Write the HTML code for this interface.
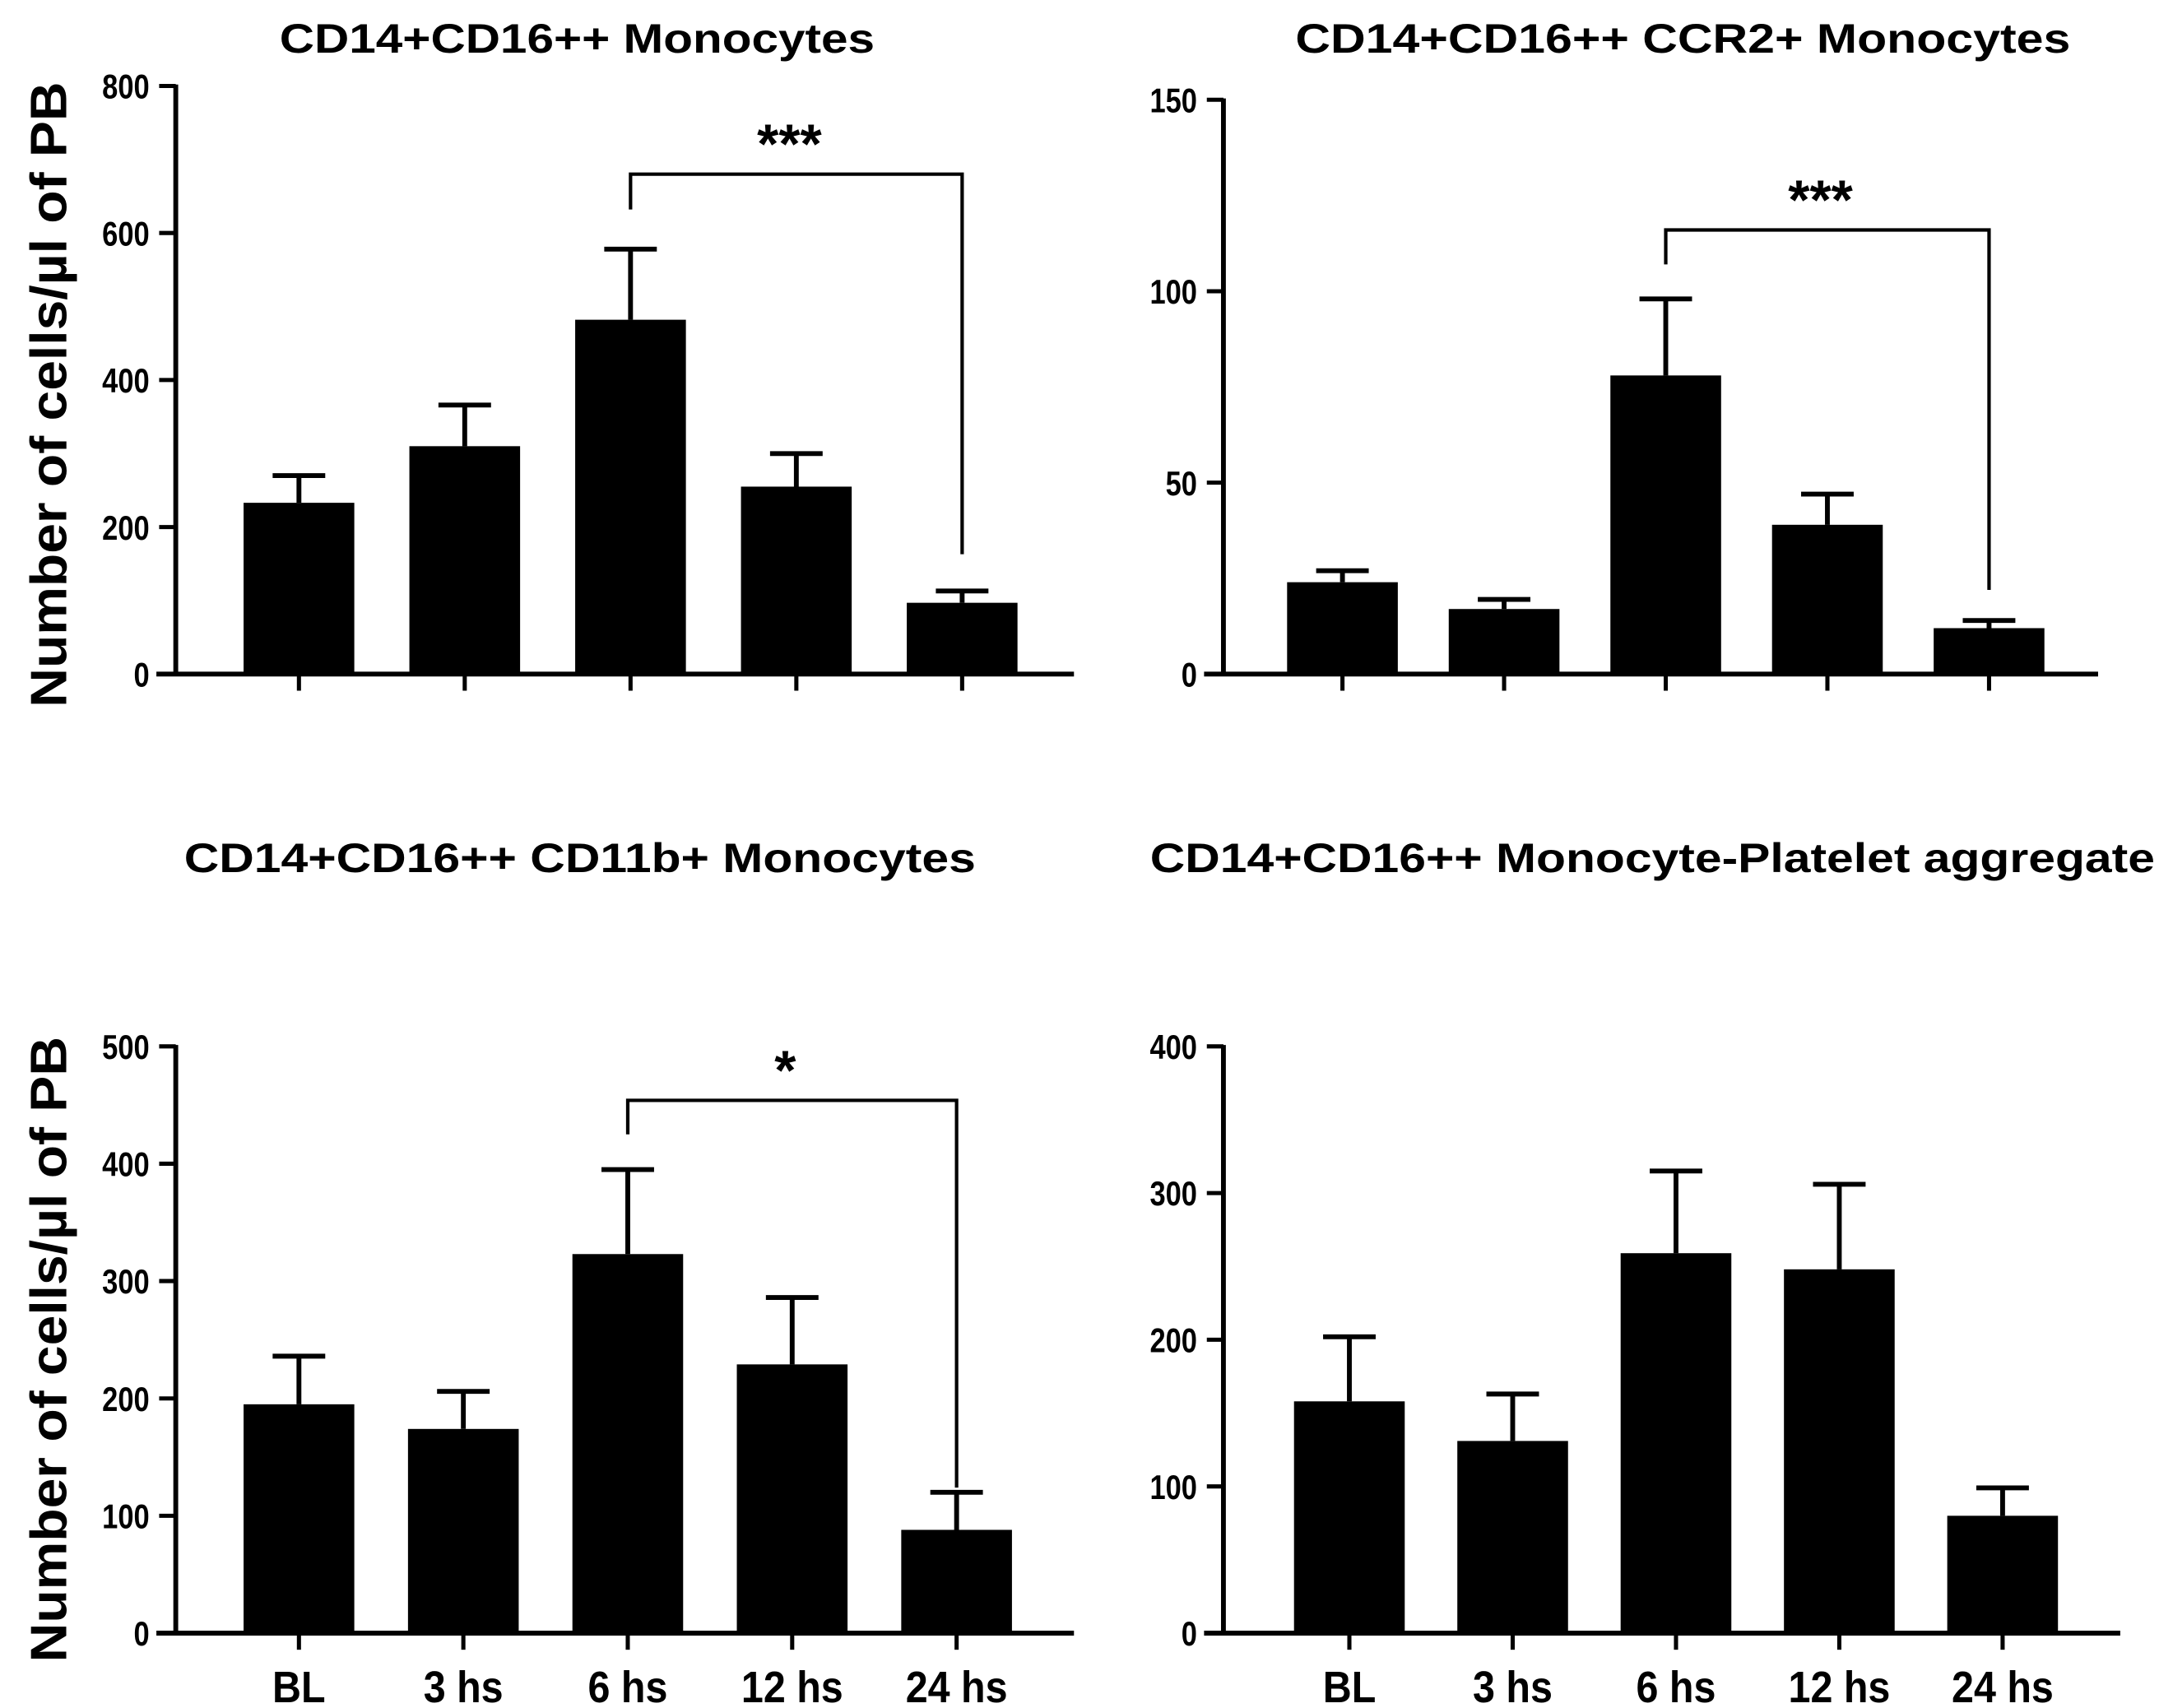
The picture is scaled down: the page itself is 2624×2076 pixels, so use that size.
<!DOCTYPE html>
<html><head><meta charset="utf-8">
<style>
html,body{margin:0;padding:0;background:#fff;}
svg{display:block;}
text{font-family:"Liberation Sans",Arial,sans-serif;font-weight:bold;fill:#000;}
</style></head>
<body>
<svg id="fig" width="2624" height="2076" viewBox="0 0 1560 1234" xmlns="http://www.w3.org/2000/svg"></svg>
<script>
const categories = ["BL","3 hs","6 hs","12 hs","24 hs"];
// panel A
const aTitle = "CD14+CD16++ Monocytes";
const aMeans = [233, 310, 482, 255, 97];
const aErrs = [270, 366, 578, 300, 113];
const aTicks = [0, 200, 400, 600, 800];
// panel B
const bTitle = "CD14+CD16++ CCR2+ Monocytes";
const bMeans = [24, 17, 78, 39, 12];
const bErrs = [27, 19.5, 98, 47, 14];
const bTicks = [0, 50, 100, 150];
// panel C
const cTitle = "CD14+CD16++ CD11b+ Monocytes";
const cMeans = [195, 174, 323, 229, 88];
const cErrs = [236, 206, 395, 286, 120];
const cTicks = [0, 100, 200, 300, 400, 500];
// panel D
const dTitle = "CD14+CD16++ Monocyte-Platelet aggregate";
const dMeans = [158, 131, 259, 248, 80];
const dErrs = [202, 163, 315, 306, 99];
const dTicks = [0, 100, 200, 300, 400];
// significance brackets: [fromIndex, toIndex, topValue, leftLegValue, rightLegValue, label]
const aSig = [2, 4, 680, 632, 163, "***"];
const bSig = [2, 4, 116, 107, 22, "***"];
const cSig = [2, 4, 454, 425, 124, "*"];

const NS = "http://www.w3.org/2000/svg";
const svg = document.getElementById('fig');
function mk(tag, attrs, parent){
  const e = document.createElementNS(NS, tag);
  for (const k in attrs) e.setAttribute(k, attrs[k]);
  (parent||svg).appendChild(e);
  return e;
}

function panel(cfg){
  const g = mk('g', {});
  
  
  const ymax = cfg.ticks[cfg.ticks.length-1];
  const yS = v => cfg.y0 - (v/ymax)*(cfg.y0-cfg.yTop);
  const xS = i => cfg.x0 + i*cfg.step;
  const t = mk('text', {x: cfg.titleX, y: cfg.titleY, 'font-size': 30, 'text-anchor':'middle', textLength: cfg.titleLen, lengthAdjust:'spacingAndGlyphs'}, g);
  t.textContent = cfg.title;
  
  
  cfg.means.forEach((m, i) => {
    const cx = xS(i);
    const r = mk('rect', {x: cx-40, y: yS(m), width: 80, height: cfg.y0 - yS(m), fill:'#000'}, g);
    
    
    const e = mk('path', {d: `M${cx} ${yS(m)} V${yS(cfg.errs[i])} M${cx-19} ${yS(cfg.errs[i])} H${cx+19}`, stroke:'#000', 'stroke-width':3.5, fill:'none'}, g);
    
    
    const tk = mk('line', {x1: cx, x2: cx, y1: cfg.y0, y2: cfg.y0+12, stroke:'#000', 'stroke-width':3}, g);
    
    
    if (cfg.xlabels){
      const lb = mk('text', {x: 0, y: 0, 'font-size': 32, 'text-anchor':'middle', transform:`translate(${cx} ${cfg.y0+50}) scale(0.9 1)`}, g);
      lb.textContent = categories[i];
      
      
    }
  });
  const ya = mk('line', {x1: cfg.ax, x2: cfg.ax, y1: cfg.yTop-1, y2: cfg.y0+1.5, stroke:'#000', 'stroke-width':3.5}, g);
  
  
  const xa = mk('line', {x1: cfg.ax-14, x2: cfg.xEnd, y1: cfg.y0, y2: cfg.y0, stroke:'#000', 'stroke-width':3.5}, g);
  
  
  cfg.ticks.forEach(v => {
    const tl = mk('line', {x1: cfg.ax-12, x2: cfg.ax, y1: yS(v), y2: yS(v), stroke:'#000', 'stroke-width':3}, g);
    
    
    const tx = mk('text', {x: 0, y: 0, 'font-size': 25, 'text-anchor':'end', transform:`translate(${cfg.ax-19} ${yS(v)+9}) scale(0.82 1)`}, g);
    tx.textContent = v;
    
    
  });
  if (cfg.ylabel){
    const yl = mk('text', {x: 0, y: 0, 'font-size': 37, 'text-anchor':'middle', transform:`translate(48 ${cfg.ylabelY}) rotate(-90)`, textLength: 452, lengthAdjust:'spacingAndGlyphs'}, g);
    yl.textContent = 'Number of cells/\u00b5l of PB';
    
    
  }
  if (cfg.sig){
    const s = cfg.sig;
    const x1 = xS(s[0]), x2 = xS(s[1]);
    const br = mk('path', {d:`M${x1} ${yS(s[3])} V${yS(s[2])} H${x2} V${yS(s[4])}`, stroke:'#000', 'stroke-width':2.5, fill:'none'}, g);
    
    
    const st = mk('text', {x: (x1+x2)/2 - 5, y: yS(s[2]) - 8, 'font-size': 40, 'text-anchor':'middle'}, g);
    st.textContent = s[5];
    
    
  }
}

panel({name:'panel-cd16-monocytes', title:aTitle, titleX:417, titleY:38, titleLen:430, means:aMeans, errs:aErrs, ticks:aTicks,
  ax:127, y0:487, yTop:62, x0:216, step:119.8, xEnd:776, sig:aSig, ylabel:true, ylabelY:285, xlabels:false});
panel({name:'panel-ccr2-monocytes', title:bTitle, titleX:1216, titleY:38, titleLen:560, means:bMeans, errs:bErrs, ticks:bTicks,
  ax:884, y0:487, yTop:72, x0:970, step:116.8, xEnd:1516, sig:bSig, ylabel:false, xlabels:false});
panel({name:'panel-cd11b-monocytes', title:cTitle, titleX:419, titleY:630, titleLen:572, means:cMeans, errs:cErrs, ticks:cTicks,
  ax:127, y0:1180, yTop:756, x0:216, step:118.8, xEnd:776, sig:cSig, ylabel:true, ylabelY:975, xlabels:true});
panel({name:'panel-monocyte-platelet', title:dTitle, titleX:1194, titleY:630, titleLen:726, means:dMeans, errs:dErrs, ticks:dTicks,
  ax:884, y0:1180, yTop:756, x0:975, step:118, xEnd:1532, sig:null, ylabel:false, xlabels:true});
</script>
</body></html>
